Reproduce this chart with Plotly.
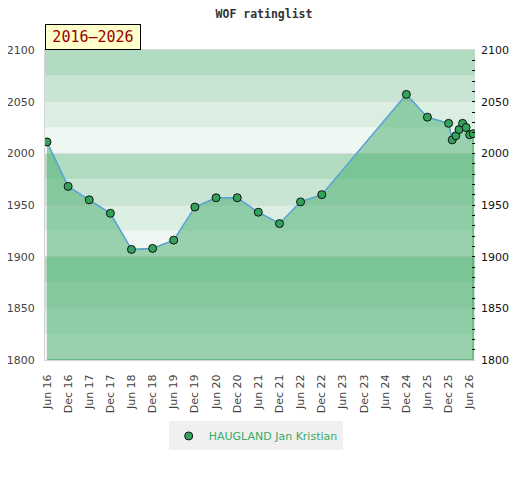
import plotly.graph_objects as go

# rating history (list dates and ratings)
dates = [
    "2016-06-01", "2016-12-01", "2017-06-01", "2017-12-01", "2018-06-01",
    "2018-12-01", "2019-06-01", "2019-12-01", "2020-06-01", "2020-12-01",
    "2021-06-01", "2021-12-01", "2022-06-01", "2022-12-01", "2024-12-01",
    "2025-06-01", "2025-12-01", "2026-01-01", "2026-02-01", "2026-03-01",
    "2026-04-01", "2026-05-01", "2026-06-01", "2026-07-01",
]
ratings = [
    2011, 1968, 1955, 1942, 1907,
    1908, 1916, 1948, 1957, 1957,
    1943, 1932, 1953, 1960, 2057,
    2035, 2029, 2013, 2017, 2023,
    2029, 2025, 2018, 2019,
]
player = "HAUGLAND Jan Kristian"
period = "2016–2026"

Y_MIN, Y_MAX = 1800, 2100
BAND = 25
band_colors = ["#eff7f2", "#dbeee2", "#c8e5d3", "#b2dcc1"]

fig = go.Figure()

# area under the curve, closed down to the bottom of the axis
fig.add_trace(go.Scatter(
    x=dates + [dates[-1], dates[0]],
    y=ratings + [Y_MIN, Y_MIN],
    fill="toself",
    fillcolor="rgba(67,172,106,0.5)",
    line=dict(color="#3a9e5a", width=1),
    mode="lines",
    hoverinfo="skip",
    showlegend=False,
))

fig.add_trace(go.Scatter(
    x=dates, y=ratings, mode="lines",
    line=dict(color="#5ba6da", width=1.5),
    showlegend=False, hoverinfo="skip",
))

fig.add_trace(go.Scatter(
    x=dates, y=ratings, mode="markers", name=player,
    marker=dict(size=8, color="#33a35c", line=dict(color="#111", width=1)),
))

# dummy trace on the right axis so it gets drawn
fig.add_trace(go.Scatter(x=[dates[0]], y=[Y_MIN], yaxis="y2", mode="markers",
                         marker=dict(opacity=0), showlegend=False, hoverinfo="skip"))

# horizontal background bands
shapes = []
for i, lo in enumerate(range(Y_MIN, Y_MAX, BAND)):
    shapes.append(dict(
        type="rect", xref="paper", yref="y", x0=0, x1=1, y0=lo, y1=lo + BAND,
        fillcolor=band_colors[i % 4], line=dict(width=0), layer="below",
    ))

# page body has an 8px margin, so the figure is sized/placed to compensate
fig.update_layout(
    width=512, height=472,
    margin=dict(l=37, r=45, t=42, b=120),
    paper_bgcolor="white", plot_bgcolor="white",
    shapes=shapes,
    font=dict(family="DejaVu Sans", size=11, color="#444"),
    title=dict(text="<b>WOF ratinglist</b>", x=0.5, xanchor="center", y=0.995, yanchor="top",
               font=dict(family="DejaVu Sans Mono", size=11.5, color="#333")),
    xaxis=dict(
        type="date", automargin=False,
        range=["2016-05-15", "2026-07-17"],
        tick0="2016-06-01", dtick="M6", tickformat="%b %y",
        tickangle=-90, tickfont=dict(size=11, color="#444"),
        showgrid=False, zeroline=False,
        showline=True, mirror=True, linecolor="#d4d4d4", linewidth=1,
        ticks="", ticklabelstandoff=9,
    ),
    yaxis=dict(
        range=[Y_MIN, Y_MAX], dtick=50, automargin=False,
        showgrid=True, gridcolor="#dcdcdc", gridwidth=1, zeroline=False,
        showline=True, linecolor="#d4d4d4", ticks="", ticklabelstandoff=7,
        tickfont=dict(size=11, color="#444"),
    ),
    yaxis2=dict(
        overlaying="y", side="right", range=[Y_MIN, Y_MAX], dtick=50, automargin=False,
        showgrid=False, zeroline=False,
        ticks="inside", ticklen=3, tickcolor="#000", ticklabelstandoff=5,
        minor=dict(dtick=10, ticks="inside", ticklen=3, tickcolor="#000"),
        tickfont=dict(size=11, color="#111"),
    ),
    legend=dict(
        orientation="h", x=0.49, xanchor="center", y=-0.245, yanchor="middle",
        bgcolor="#f0f0f0", font=dict(size=11, color="#3aaa64"),
        tracegroupgap=0, itemwidth=30,
    ),
    annotations=[dict(
        text=period, xref="paper", yref="paper", x=0, y=1,
        xanchor="left", yanchor="bottom", showarrow=False,
        font=dict(family="DejaVu Sans Mono", size=15, color="#990000"),
        bgcolor="#ffffcc", bordercolor="#000", borderwidth=1, borderpad=3,
        width=88,
    )],
)

fig.write_html("out.html")
